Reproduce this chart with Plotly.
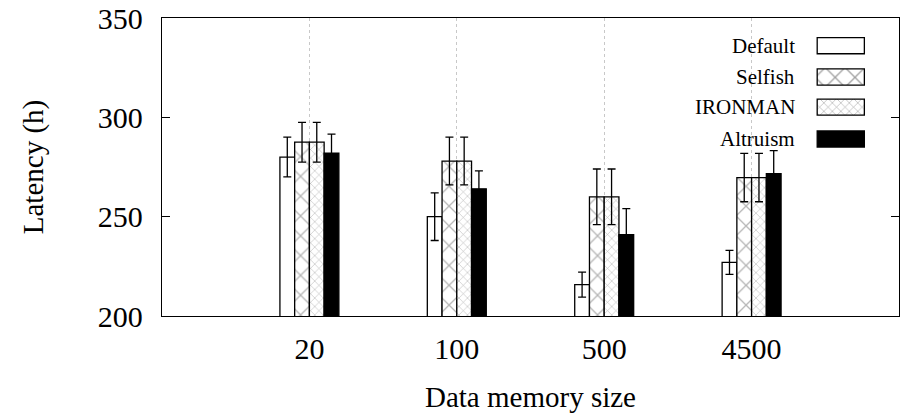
import plotly.graph_objects as go

categories = ["20", "100", "500", "4500"]
series_names = ["Default", "Selfish", "IRONMAN", "Altruism"]
default_vals = [280, 250, 215.8, 227]
default_err = [10, 12, 6.3, 6]
selfish_vals = [287.5, 278, 260, 269.7]
selfish_err = [10, 12, 14, 12.2]
ironman_vals = [287.5, 278, 260, 269.7]
ironman_err = [10, 12, 14, 12.2]
altruism_vals = [282, 264, 241, 271.6]
altruism_err = [9.5, 9, 13, 11.6]

values = [default_vals, selfish_vals, ironman_vals, altruism_vals]
errors = [default_err, selfish_err, ironman_err, altruism_err]
fills = ["white", "white", "white", "black"]
pat_shapes = ["", "x", "x", ""]
pat_sizes = [8, 14, 6, 8]

FONT = "Liberation Serif"
PAT_COLOR = "#6e6e6e"
PAT_SOL = 0.18

fig = go.Figure()
for name, v, e, fc, ps, sz in zip(series_names, values, errors, fills, pat_shapes, pat_sizes):
    fig.add_trace(go.Bar(
        name=name, x=categories, y=v,
        marker=dict(color=fc, line=dict(color="black", width=1.3),
                    pattern=dict(shape=ps, size=sz, fgcolor=PAT_COLOR, solidity=PAT_SOL, bgcolor=fc)),
        error_y=dict(type="data", array=e, visible=True, color="black", thickness=1.3, width=4),
        showlegend=False,
    ))

# manual legend (text left of swatch, as in reference)
leg_y = [0.907, 0.802, 0.701, 0.594]
fig.add_trace(go.Bar(
    orientation="h", y=leg_y, x=[0.064] * 4, base=0.889, width=0.054,
    xaxis="x2", yaxis="y2", showlegend=False, hoverinfo="skip",
    marker=dict(color=fills, line=dict(color="black", width=1.3),
                pattern=dict(shape=pat_shapes, size=pat_sizes, fgcolor=PAT_COLOR,
                             solidity=PAT_SOL, bgcolor=fills)),
))
for name, yy in zip(series_names, leg_y):
    fig.add_annotation(x=0.862, y=yy, xref="x2", yref="y2", text=name, showarrow=False,
                       xanchor="right", yanchor="middle",
                       font=dict(family=FONT, size=21, color="black"))

fig.update_layout(
    width=900, height=414,
    margin=dict(l=162, r=1, t=18, b=98, pad=0, autoexpand=False),
    paper_bgcolor="white", plot_bgcolor="white",
    barmode="group", bargap=0.6, bargroupgap=0,
    font=dict(family=FONT, color="black"),
    xaxis=dict(type="category", range=[-1, 4], showgrid=True, gridcolor="#c8c8c8",
               griddash="dot", gridwidth=1, showline=True, mirror=True, linecolor="black",
               linewidth=1.3, ticks="", tickfont=dict(family=FONT, size=30),
               ticklabelstandoff=6, automargin=False,
               title=dict(text="Data memory size", font=dict(family=FONT, size=29), standoff=22),
               zeroline=False),
    yaxis=dict(range=[200, 350], dtick=50, showgrid=False, showline=True, mirror="ticks",
               linecolor="black", linewidth=1.3, ticks="inside", ticklen=8, tickcolor="black",
               tickfont=dict(family=FONT, size=30), ticklabelstandoff=12, automargin=False,
               title=dict(text="Latency (h)", font=dict(family=FONT, size=29), standoff=45),
               zeroline=False),
    xaxis2=dict(overlaying="x", range=[0, 1], visible=False, fixedrange=True, automargin=False),
    yaxis2=dict(overlaying="y", range=[0, 1], visible=False, fixedrange=True, automargin=False),
)

fig.write_html(
    "out.html",
    config={"displayModeBar": False},
    post_script="document.body.style.margin='0px';document.body.style.overflow='hidden';",
)
